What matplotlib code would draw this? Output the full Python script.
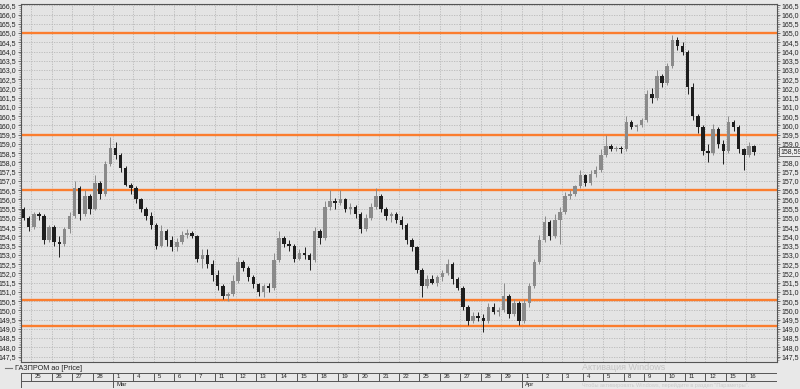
import matplotlib
matplotlib.use('Agg')
import numpy as np
import matplotlib.pyplot as plt
from matplotlib.ticker import MultipleLocator, FuncFormatter
from matplotlib.lines import Line2D
from matplotlib.transforms import blended_transform_factory

plt.rcParams['font.family'] = ['Liberation Sans', 'DejaVu Sans']

# торговые дни (первый, 22 фев, виден только наполовину)
days = ['22', '25', '26', '27', '28', '1', '4', '5', '6', '7', '11', '12', '13', '14', '15',
        '18', '19', '20', '21', '22', '25', '26', '27', '28', '29',
        '1', '2', '3', '4', '5', '8', '9', '10', '11', '12', '15', '16']
month_starts = {'Mar': 5, 'Apr': 25}

# свечи по дням: open / high / low / close
opens = [
    [155.5, 155.0],
    [154.5, 155.2, 155.1, 153.8], [154.5, 153.7, 153.6, 154.4], [155.1, 156.6, 155.2, 156.2],
    [155.5, 156.9, 156.3, 157.9], [158.8, 158.4, 157.7, 156.8], [156.6, 156.0, 155.5, 155.1],
    [154.6, 153.5, 154.3, 153.8], [153.4, 153.7, 154.1, 154.2], [154.0, 152.8, 153.0, 152.5],
    [151.9, 151.3, 150.8, 150.9], [151.6, 152.6, 152.3, 151.8], [151.4, 151.0, 151.3, 151.2],
    [152.7, 153.9, 153.6, 153.5], [152.8, 153.1, 153.0, 152.7], [154.3, 153.9, 155.6, 155.9],
    [155.8, 156.0, 155.5, 155.6], [155.2, 154.4, 155.0, 155.6], [156.2, 155.5, 155.1, 155.2],
    [154.9, 154.6, 153.8, 153.4], [152.2, 151.3, 151.7, 151.5], [151.8, 152.0, 152.5, 151.7],
    [151.2, 150.2, 149.4, 149.7], [149.6, 149.4, 150.2, 149.9], [150.0, 150.8, 149.8, 150.4],
    [149.4, 150.4, 151.3, 152.6], [153.8, 154.8, 154.0, 154.9], [155.3, 156.2, 156.3, 156.7],
    [157.3, 156.9, 157.4, 157.6], [158.4, 158.9, 158.7, 158.8], [158.7, 160.2, 159.9, 160.0],
    [160.3, 161.7, 161.5, 162.7], [162.3, 163.2, 164.6, 164.3], [164.0, 162.1, 160.5, 159.9],
    [158.6, 158.5, 159.8, 159.0], [158.6, 160.2, 159.9, 158.7],
    [158.4, 158.9],
]
highs = [
    [155.6, 155.1],
    [155.3, 155.3, 155.2, 154.6], [154.6, 154.0, 154.5, 155.3], [157.0, 156.7, 156.5, 156.3],
    [157.3, 157.0, 158.1, 159.4], [159.1, 158.5, 157.8, 156.9], [156.7, 156.1, 155.6, 155.3],
    [154.7, 154.6, 154.4, 154.0], [153.9, 154.3, 154.4, 154.3], [154.1, 153.3, 153.3, 152.7],
    [152.2, 151.4, 151.0, 151.9], [152.9, 152.7, 152.4, 151.9], [151.5, 151.4, 151.5, 153.1],
    [154.3, 154.0, 153.8, 153.6], [153.3, 153.4, 153.1, 154.5], [154.4, 155.9, 156.5, 156.1],
    [156.5, 156.1, 155.8, 155.7], [155.3, 155.2, 155.8, 156.6], [156.3, 155.6, 155.3, 155.3],
    [155.1, 154.7, 153.9, 153.5], [152.3, 151.9, 151.9, 151.9], [152.2, 152.8, 152.6, 151.8],
    [151.3, 150.3, 149.9, 149.9], [149.8, 150.4, 150.4, 150.2], [151.5, 150.9, 150.6, 150.5],
    [150.6, 151.5, 152.8, 154.1], [155.1, 154.9, 155.2, 155.6], [156.4, 156.5, 156.8, 157.6],
    [157.4, 157.6, 157.8, 158.7], [159.5, 159.0, 158.9, 158.9], [160.5, 160.3, 160.1, 160.4],
    [161.9, 162.0, 163.0, 162.8], [163.4, 164.9, 164.8, 164.5], [164.1, 162.3, 160.6, 160.0],
    [159.0, 160.1, 159.9, 159.2], [160.5, 160.3, 160.0, 158.8],
    [159.1, 158.95],
]
lows = [
    [154.9, 154.3],
    [154.4, 154.9, 153.6, 153.7], [153.5, 152.9, 153.5, 154.2], [155.0, 154.9, 155.1, 155.2],
    [155.4, 156.0, 156.2, 157.8], [158.2, 157.5, 156.7, 156.3], [155.8, 155.3, 154.9, 154.4],
    [153.3, 153.4, 153.5, 153.2], [153.2, 153.6, 153.9, 153.9], [152.6, 152.3, 152.3, 151.6],
    [151.1, 150.6, 150.5, 150.8], [151.5, 152.1, 151.6, 151.2], [150.8, 150.7, 151.0, 151.1],
    [152.6, 153.4, 153.2, 152.6], [152.7, 152.8, 152.2, 152.6], [153.6, 153.8, 155.4, 155.5],
    [155.7, 155.3, 155.2, 155.0], [154.2, 154.3, 154.9, 155.5], [155.3, 154.9, 154.8, 154.7],
    [154.4, 153.6, 153.2, 152.0], [150.7, 151.2, 151.4, 151.3], [151.6, 151.9, 151.4, 151.1],
    [150.0, 149.2, 149.3, 149.4], [148.8, 149.3, 149.8, 149.7], [149.9, 149.6, 149.7, 149.2],
    [149.3, 150.2, 151.2, 152.5], [153.7, 153.8, 153.9, 153.6], [155.2, 156.0, 156.2, 156.6],
    [156.7, 156.8, 157.2, 157.5], [158.3, 158.6, 158.6, 158.5], [158.6, 159.8, 159.7, 159.9],
    [160.2, 161.2, 161.4, 162.1], [162.2, 163.1, 164.1, 163.8], [161.7, 160.3, 159.6, 158.4],
    [158.0, 158.4, 158.8, 157.9], [158.5, 159.7, 158.5, 157.6],
    [158.3, 158.4],
]
closes = [
    [155.0, 154.5],
    [155.2, 155.1, 153.8, 154.5], [153.7, 153.6, 154.4, 155.1], [156.6, 155.2, 156.2, 155.5],
    [156.9, 156.3, 157.9, 158.8], [158.4, 157.7, 156.8, 156.6], [156.0, 155.5, 155.1, 154.6],
    [153.5, 154.3, 153.8, 153.4], [153.7, 154.1, 154.2, 154.0], [152.8, 153.0, 152.5, 151.9],
    [151.3, 150.8, 150.9, 151.6], [152.6, 152.3, 151.8, 151.4], [151.0, 151.3, 151.2, 152.7],
    [153.9, 153.6, 153.5, 152.8], [153.1, 153.0, 152.7, 154.3], [153.9, 155.6, 155.9, 155.8],
    [156.0, 155.5, 155.6, 155.2], [154.4, 155.0, 155.6, 156.2], [155.5, 155.1, 155.2, 154.9],
    [154.6, 153.8, 153.4, 152.2], [151.3, 151.7, 151.5, 151.8], [152.0, 152.5, 151.7, 151.2],
    [150.2, 149.4, 149.7, 149.6], [149.4, 150.2, 149.9, 150.0], [150.8, 149.8, 150.4, 149.4],
    [150.4, 151.3, 152.6, 153.8], [154.8, 154.0, 154.9, 155.3], [156.2, 156.3, 156.7, 157.3],
    [156.9, 157.4, 157.6, 158.4], [158.9, 158.7, 158.8, 158.7], [160.2, 159.9, 160.0, 160.3],
    [161.7, 161.5, 162.7, 162.3], [163.2, 164.6, 164.3, 164.0], [162.1, 160.5, 159.9, 158.6],
    [158.5, 159.8, 159.0, 158.6], [160.2, 159.9, 158.7, 158.4],
    [158.9, 158.59],
]
last_price = 158.59
levels = [165.0, 159.5, 156.5, 150.58, 149.16]
price_ticks = np.arange(147.5, 166.51, 0.5)

per_day = 4
ORANGE = '#fb7d2e'
BG = '#e4e4e4'

# позиции свечей: день i занимает слот i-1 (первый день обрезан слева)
xs, o_all, h_all, l_all, c_all = [], [], [], [], []
for i, day_o in enumerate(opens):
    n = len(day_o)
    k0 = per_day - n if i == 0 else 0
    for k in range(n):
        xs.append(i - 1 + (k0 + k + 0.5) / per_day)
    o_all += day_o
    h_all += highs[i]
    l_all += lows[i]
    c_all += closes[i]
xs = np.array(xs)
o_all, h_all, l_all, c_all = map(np.array, (o_all, h_all, l_all, c_all))

fig = plt.figure(figsize=(8, 3.89), dpi=100, facecolor='#e8e8e8')
ax = fig.add_axes([21 / 800, 1 - 361.7 / 389, 756 / 800, 357.7 / 389])
ax.set_facecolor(BG)
ax.set_xlim(-0.5, len(days) - 0.5)
ax.set_ylim(147.22, 166.57)

# сетка
ax.set_xticks(np.arange(0, len(days) - 1))
ax.set_yticks(price_ticks)
ax.yaxis.set_minor_locator(MultipleLocator(0.1))
ax.grid(True, color='#b8b8b8', linestyle=(0, (1.5, 1.5)), linewidth=0.6)
ax.set_axisbelow(True)
ax.tick_params(axis='x', length=0, labelbottom=False)
ax.tick_params(axis='y', which='major', length=2.5, width=0.6, color='#555555',
               labelsize=5, labelcolor='#222222', pad=1, right=True, labelright=True)
ax.tick_params(axis='y', which='minor', length=1.2, width=0.4, color='#777777', right=True)
ax.yaxis.set_major_formatter(FuncFormatter(lambda v, p: f'{v:.1f}'.replace('.', ',')))
for s in ax.spines.values():
    s.set_color('#555555')
    s.set_linewidth(0.8)

# метку справа под плашкой текущей цены не показываем
for t, v in zip(ax.yaxis.get_major_ticks(), price_ticks):
    if abs(v - last_price) < 0.25:
        t.label2.set_visible(False)

# уровни
for lv in levels:
    ax.axhline(lv, color=ORANGE, linewidth=1.7, zorder=2)

# свечи
up = c_all >= o_all
colors = np.where(up, '#8a8a8a', '#1e1e1e')
ax.vlines(xs, l_all, h_all, colors=colors, linewidth=0.7, zorder=3)
body_lo = np.minimum(o_all, c_all)
body_h = np.maximum(np.abs(c_all - o_all), 0.04)
ax.bar(xs, body_h, bottom=body_lo, width=0.17, color=colors, linewidth=0, zorder=4)

# текущая цена справа
tr = blended_transform_factory(ax.transAxes, ax.transData)
ax.text(1.004, last_price, f'{last_price:.2f}'.replace('.', ','), transform=tr,
        fontsize=5, va='center', ha='left', color='#222222',
        bbox=dict(boxstyle='square,pad=0.2', fc='#eeeeee', ec='#555555', lw=0.6))

# легенда
fig.add_artist(Line2D([5 / 800, 12 / 800], [1 - 368 / 389] * 2, color='#777777', lw=0.8))
fig.text(15 / 800, 1 - 368 / 389, 'ГАЗПРОМ ао [Price]', fontsize=5.2, va='center', color='#222222')

# шкала дат
axd = fig.add_axes([21 / 800, 1 - 388 / 389, 756 / 800, 15.3 / 389])
axd.set_xlim(-0.5, len(days) - 0.5)
axd.set_ylim(0, 2)
axd.axis('off')
axd.patch.set_alpha(0)
line_kw = dict(color='#555555', linewidth=0.7)
axd.axhline(2, **line_kw)
axd.axhline(0.95, **line_kw)
axd.axhline(0, **line_kw)
axd.axvline(-0.5, **line_kw)
axd.axvline(len(days) - 0.5, **line_kw)
for i, lab in enumerate(days):
    if i == 0:
        continue
    axd.plot([i - 1, i - 1], [0.95, 2], **line_kw)
    axd.text(i - 1 + 0.18, 1.47, lab, fontsize=4.3, va='center', ha='left', color='#222222')
for m, i in month_starts.items():
    axd.plot([i - 1, i - 1], [0, 0.95], **line_kw)
    axd.text(i - 1 + 0.18, 0.45, m, fontsize=4.3, va='center', ha='left', color='#222222')

# водяной знак Windows
fig.text(582 / 800, 1 - 367.5 / 389, 'Активация Windows', fontsize=6.5, color='#c4c4c4', va='center')
fig.text(582 / 800, 1 - 385 / 389, 'Чтобы активировать Windows, перейдите в раздел "Параметры".',
         fontsize=4, color='#cbcbcb', va='center')

fig.savefig('out.png', dpi=100, facecolor=fig.get_facecolor())
